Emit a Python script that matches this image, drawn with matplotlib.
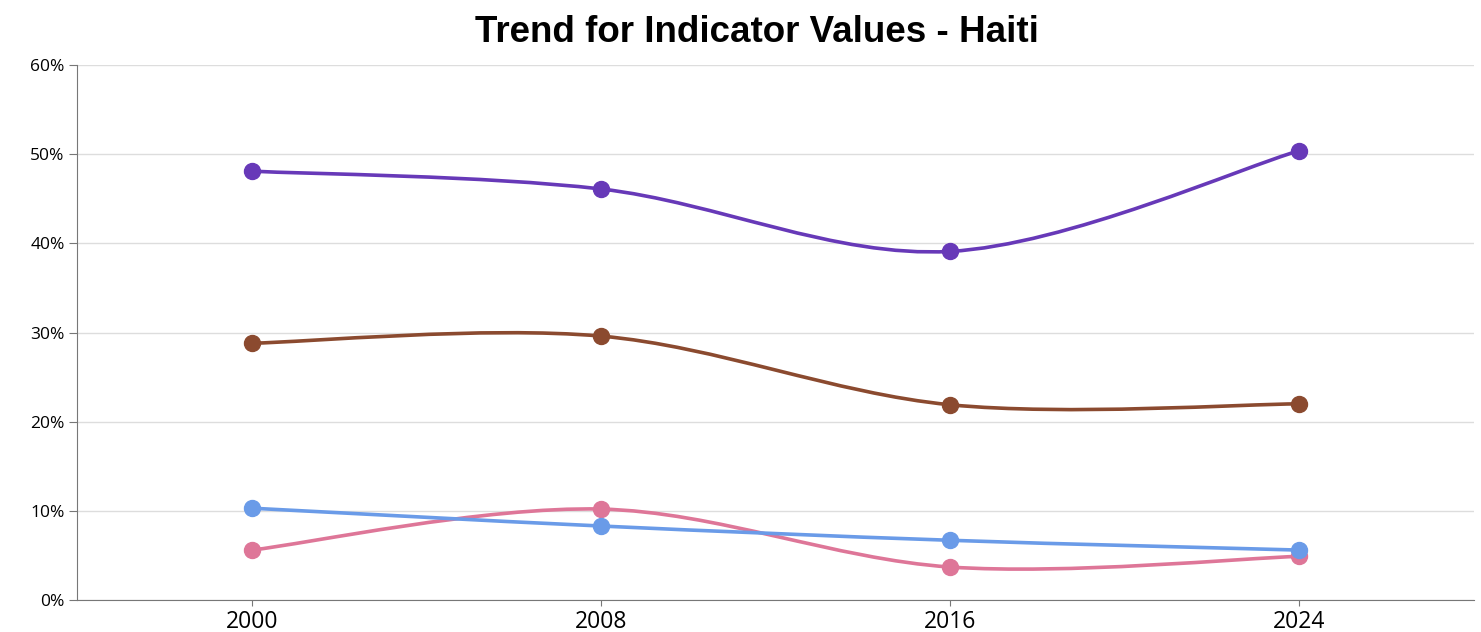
import matplotlib
matplotlib.use("Agg")
import matplotlib.pyplot as plt
from matplotlib.path import Path
from matplotlib.patches import PathPatch
from matplotlib.ticker import FuncFormatter

years = ["2000", "2008", "2016", "2024"]
series_a = [48.1, 46.1, 39.1, 50.4]   # purple
series_b = [28.8, 29.6, 21.9, 22.0]   # brown
series_c = [5.6, 10.2, 3.7, 4.9]      # pink
series_d = [10.3, 8.3, 6.7, 5.6]      # blue

colors = ["#6739B8", "#8B4A2F", "#DE7698", "#6A9BE8"]


def cardinal_path(xs, ys):
    # d3 curveCardinal (tension 0) as cubic bezier segments
    pts = list(zip(xs, ys))
    ext = [pts[0]] + pts + [pts[-1]]
    verts = [pts[0]]
    codes = [Path.MOVETO]
    for i in range(1, len(ext) - 2):
        p0, p1, p2, p3 = ext[i - 1], ext[i], ext[i + 1], ext[i + 2]
        c1 = (p1[0] + (p2[0] - p0[0]) / 6, p1[1] + (p2[1] - p0[1]) / 6)
        c2 = (p2[0] - (p3[0] - p1[0]) / 6, p2[1] - (p3[1] - p1[1]) / 6)
        verts += [c1, c2, p2]
        codes += [Path.CURVE4] * 3
    return Path(verts, codes)


fig = plt.figure(figsize=(14.81, 6.32), dpi=100)
ax = fig.add_axes([0.052, 0.0506, 0.9433, 0.8465])

x = list(range(len(years)))
for vals, col in zip([series_a, series_b, series_c, series_d], colors):
    ax.add_patch(PathPatch(cardinal_path(x, vals), facecolor="none", edgecolor=col,
                           lw=2.6, zorder=3, capstyle="round"))
    ax.plot(x, vals, "o", color=col, markersize=11.5, zorder=4)

ax.set_xlim(-0.5, 3.5)
ax.set_ylim(0, 60)
ax.set_xticks(x)
ax.set_xticklabels(years)
ax.set_yticks(range(0, 61, 10))
ax.yaxis.set_major_formatter(FuncFormatter(lambda v, p: f"{v:.0f}%"))
ax.grid(axis="y", color="#dddddd", lw=1)
ax.set_axisbelow(True)
for s in ["top", "right"]:
    ax.spines[s].set_visible(False)
for s in ["left", "bottom"]:
    ax.spines[s].set_color("#777777")
ax.tick_params(axis="y", labelsize=12.5, length=6, color="#777777", pad=3)
ax.tick_params(axis="x", labelsize=16.5, length=4, color="#777777", pad=3)
for lbl in ax.get_xticklabels() + ax.get_yticklabels():
    lbl.set_family(["Open Sans", "DejaVu Sans"])

fig.text(0.511, 0.949, "Trend for Indicator Values - Haiti", ha="center", va="center",
         fontsize=26.5, fontweight="bold",
         family=["Liberation Sans Narrow", "Liberation Sans", "DejaVu Sans"])

fig.savefig("out.png", dpi=100)
